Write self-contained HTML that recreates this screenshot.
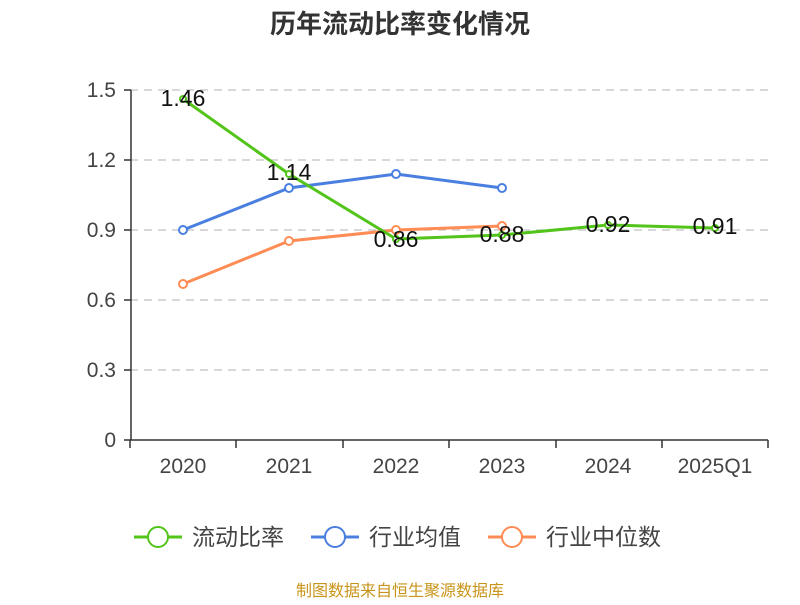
<!DOCTYPE html>
<html><head><meta charset="utf-8"><style>
body{margin:0;background:#fff;}
text{font-family:"Liberation Sans","Noto Sans CJK SC",sans-serif;}
</style></head><body>
<svg width="800" height="600" xmlns="http://www.w3.org/2000/svg">
<text x="400" y="33" text-anchor="middle" font-size="26" font-weight="bold" fill="#333">历年流动比率变化情况</text>
<g stroke="#ccc" stroke-width="1.5" stroke-dasharray="8,6">
<line x1="130" y1="90" x2="768" y2="90"/><line x1="130" y1="160" x2="768" y2="160"/><line x1="130" y1="230" x2="768" y2="230"/><line x1="130" y1="300" x2="768" y2="300"/><line x1="130" y1="370" x2="768" y2="370"/>
</g>
<g stroke="#333" stroke-width="1.5">
<line x1="131" y1="90" x2="131" y2="440"/>
<line x1="124" y1="90" x2="131" y2="90"/><line x1="124" y1="160" x2="131" y2="160"/><line x1="124" y1="230" x2="131" y2="230"/><line x1="124" y1="300" x2="131" y2="300"/><line x1="124" y1="370" x2="131" y2="370"/><line x1="124" y1="440" x2="131" y2="440"/>
<line x1="130" y1="440" x2="768" y2="440"/>
<line x1="130" y1="440" x2="130" y2="448"/><line x1="236" y1="440" x2="236" y2="448"/><line x1="343" y1="440" x2="343" y2="448"/><line x1="449" y1="440" x2="449" y2="448"/><line x1="556" y1="440" x2="556" y2="448"/><line x1="662" y1="440" x2="662" y2="448"/><line x1="768" y1="440" x2="768" y2="448"/>
</g>
<g font-size="21" fill="#444" text-anchor="end">
<text x="116" y="97">1.5</text><text x="116" y="167">1.2</text><text x="116" y="237">0.9</text><text x="116" y="307">0.6</text><text x="116" y="377">0.3</text><text x="116" y="447">0</text>
</g>
<g font-size="21" fill="#444" text-anchor="middle">
<text x="183" y="473">2020</text><text x="289" y="473">2021</text><text x="396" y="473">2022</text><text x="502" y="473">2023</text><text x="608" y="473">2024</text><text x="715" y="473">2025Q1</text>
</g>
<polyline points="183,230 289,188 396,174 502,188" fill="none" stroke="#4a7fe0" stroke-width="3"/>
<g fill="#fff" stroke="#4a7fe0" stroke-width="2"><circle cx="183" cy="230" r="4"/><circle cx="289" cy="188" r="4"/><circle cx="396" cy="174" r="4"/><circle cx="502" cy="188" r="4"/></g>
<polyline points="183,284 289,241 396,230 502,226" fill="none" stroke="#ff8c55" stroke-width="3"/>
<g fill="#fff" stroke="#ff8c55" stroke-width="2"><circle cx="183" cy="284" r="4"/><circle cx="289" cy="241" r="4"/><circle cx="396" cy="230" r="4"/><circle cx="502" cy="226" r="4"/></g>
<polyline points="183,99 289,174 396,239 502,235 608,225 715,228" fill="none" stroke="#52c41a" stroke-width="3"/>
<g fill="#fff" stroke="#52c41a" stroke-width="2"><circle cx="183" cy="99" r="3"/><circle cx="289" cy="174" r="3"/><circle cx="396" cy="239" r="3"/><circle cx="502" cy="235" r="3"/><circle cx="608" cy="225" r="3"/><circle cx="715" cy="228" r="3"/></g>
<g font-size="23" fill="#111" text-anchor="middle">
<text x="183" y="106">1.46</text><text x="289" y="180">1.14</text><text x="396" y="247">0.86</text><text x="502" y="242">0.88</text><text x="608" y="232">0.92</text><text x="715" y="234">0.91</text>
</g>
<g font-size="23" fill="#444">
<line x1="134" y1="537" x2="182" y2="537" stroke="#52c41a" stroke-width="3"/><circle cx="158" cy="537" r="10" fill="#fff" stroke="#52c41a" stroke-width="2"/><text x="192" y="545">流动比率</text>
<line x1="311" y1="537" x2="359" y2="537" stroke="#4a7fe0" stroke-width="3"/><circle cx="335" cy="537" r="10" fill="#fff" stroke="#4a7fe0" stroke-width="2"/><text x="369" y="545">行业均值</text>
<line x1="488" y1="537" x2="536" y2="537" stroke="#ff8c55" stroke-width="3"/><circle cx="512" cy="537" r="10" fill="#fff" stroke="#ff8c55" stroke-width="2"/><text x="546" y="545">行业中位数</text>
</g>
<text x="400" y="596" text-anchor="middle" font-size="16" fill="#c8941a">制图数据来自恒生聚源数据库</text>
</svg>
</body></html>
